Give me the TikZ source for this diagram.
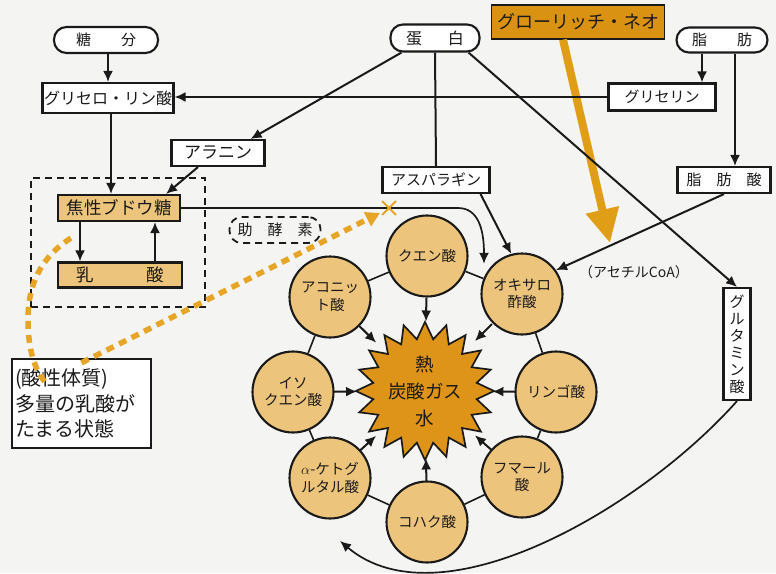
\documentclass[tikz,border=0pt]{standalone}
\usepackage{fontspec}
\setmainfont{Noto Sans CJK JP}
\usetikzlibrary{shapes.geometric,arrows.meta,calc}
\definecolor{bg}{HTML}{F4F5F3}
\definecolor{tanc}{HTML}{EDC47C}
\definecolor{starc}{HTML}{DE9418}
\definecolor{gloc}{HTML}{D99212}
\definecolor{oarrow}{HTML}{E09E16}
\definecolor{odash}{HTML}{E6A526}
\definecolor{ink}{HTML}{1A1A1A}
\begin{document}
\begin{tikzpicture}[x=1pt,y=-1pt,
  every node/.style={text=ink},
  bx/.style={draw=ink,line width=2.1pt,fill=white,inner sep=0pt,font=\fontsize{15}{18}\selectfont},
  pill/.style={bx,rounded corners=12.5pt},
  tanbx/.style={bx,fill=tanc,font=\fontsize{17.5}{20}\selectfont},
  circ/.style={circle,draw=ink,line width=2.1pt,fill=tanc,minimum size=81pt,inner sep=0pt,align=center,font=\fontsize{14.5}{17.5}\selectfont},
  arr/.style={draw=ink,line width=2pt,-{Latex[length=11pt,width=10pt]}},
  link/.style={draw=ink,line width=1.6pt},
  orangedash/.style={draw=odash,line width=5.5pt,dash pattern=on 8pt off 6pt}
]
\fill[bg] (0,0) rectangle (776,573);
\useasboundingbox (0,0) rectangle (776,573);

% boxes
\node[pill,minimum width=104pt,minimum height=26pt] (tobun) at (106,40) {糖\hspace{2em}分};
\node[bx,minimum width=131pt,minimum height=30pt,font=\fontsize{16}{18}\selectfont] (glyp) at (108,98) {グリセロ・リン酸};
\node[bx,minimum width=93pt,minimum height=26pt,font=\fontsize{17}{20}\selectfont] (alanin) at (218,153) {アラニン};
\node[draw=ink,line width=1.8pt,dash pattern=on 7pt off 5pt,minimum width=174pt,minimum height=129pt,inner sep=0pt] (group) at (118,242.5) {};
\node[tanbx,minimum width=122pt,minimum height=26pt] (shosei) at (119,208) {焦性ブドウ糖};
\node[tanbx,minimum width=124pt,minimum height=25pt] (nyusan) at (120,275) {乳\hspace{3em}酸};
\node[draw=ink,line width=1.8pt,dash pattern=on 7pt off 5pt,rounded corners=12pt,minimum width=91pt,minimum height=26pt,inner sep=0pt,font=\fontsize{15}{18}\selectfont] (jokoso) at (275,230) {助\hspace{1em}酵\hspace{1em}素};
\node[bx,line width=2.4pt,minimum width=139pt,minimum height=89pt,align=left,text width=133pt,font=\fontsize{20}{25.5}\selectfont] (sanbox) at (81.5,403.5) {(酸性体質)\\多量の乳酸が\\たまる状態};
\node[pill,minimum width=89pt,minimum height=27pt,font=\fontsize{16}{18}\selectfont] (tanpaku) at (435,38) {蛋\hspace{1.6em}白};
\node[bx,fill=gloc,line width=1.3pt,minimum width=173pt,minimum height=34pt,font=\fontsize{18}{20}\selectfont] (glorich) at (578,22) {グローリッチ・ネオ};
\node[pill,minimum width=91pt,minimum height=25pt] (shibo) at (722,40) {脂\hspace{2em}肪};
\node[bx,minimum width=107pt,minimum height=27pt] (glycerin) at (662,97) {グリセリン};
\node[bx,minimum width=93pt,minimum height=26pt] (shibosan) at (724,180) {脂\hspace{1em}肪\hspace{1em}酸};
\node[bx,minimum width=107pt,minimum height=26pt] (asparagin) at (436,180) {アスパラギン};
\node[bx,minimum width=27pt,minimum height=112pt,align=center,font=\fontsize{15}{17}\selectfont] (glutamin) at (737,344) {グ\\ル\\タ\\ミ\\ン\\酸};
\node[font=\fontsize{14}{16}\selectfont] (acoa) at (634,272) {（アセチルCoA）};

% cycle
\node[circ] (c1) at (427,256) {クエン酸};
\node[circ] (c2) at (522,294) {オキサロ\\酢酸};
\node[circ] (c3) at (556,392) {リンゴ酸};
\node[circ] (c4) at (522,477) {フマール\\酸};
\node[circ] (c5) at (427,522) {コハク酸};
\node[circ] (c6) at (330,478) {$\alpha$-ケトグ\\ルタル酸};
\node[circ] (c7) at (293,392) {イソ\\クエン酸};
\node[circ] (c8) at (330,297) {アコニッ\\ト酸};
\foreach \a/\b in {c1/c2,c2/c3,c3/c4,c4/c5,c5/c6,c6/c7,c7/c8,c8/c1}
  \draw[link] (\a) -- (\b);
\node[star,star points=20,star point ratio=1.32,draw=ink,line width=1.7pt,fill=starc,minimum size=130pt,inner sep=0pt,align=center,font=\fontsize{18.5}{27}\selectfont] (star) at (425,391) {熱\\炭酸ガス\\水};
\foreach \c in {c1,c2,c3,c4,c5,c6,c7,c8}
  \draw[arr] ($(star)!0.69!(\c)$) -- ($(star)!0.515!(\c)$);

% coordinates for free ends
\coordinate (goal) at (610,243);
\coordinate (tcaend) at ($(c1)!0.6!(c2)+(0,-15)$);
\coordinate (gend) at (340,541);
\coordinate (xm) at (389,208);

% orange arrow
\draw[draw=oarrow,line width=8pt,-{Triangle[length=34pt,width=32pt]}] ([xshift=-15pt]glorich.south) -- (goal);

% connectors
\draw[arr] (tobun.south -| glyp.north) -- (glyp.north);
\draw[arr] ([xshift=3pt]glyp.south) -- ([xshift=3pt]glyp.south |- shosei.north);
\draw[arr] (glycerin.west) -- (glycerin.west -| glyp.east);
\draw[arr] ([xshift=12pt]tanpaku.south west) -- ([xshift=-15pt]alanin.north east);
\draw[arr] ([xshift=-20pt]alanin.south) -- ([xshift=-15pt]shosei.north east);
\draw[arr] ([xshift=-39pt]shosei.south) -- ([xshift=-40pt]nyusan.north);
\draw[arr] ([xshift=35pt]nyusan.north) -- ([xshift=36pt]shosei.south);
\draw[arr,line width=1.7pt] (shosei.east) -- ([xshift=-26pt]shosei.east -| tcaend) .. controls +(20,0) and +(0,-35) .. (tcaend);
\draw[link,line width=2pt] (tanpaku.south) -- (asparagin.north);
\draw[arr] ([xshift=-10pt]asparagin.south east) -- (c2.105);
\draw[arr] ([xshift=-12pt]tanpaku.south east) -- (glutamin.north);
\draw[arr] ([xshift=-20pt]shibo.south) -- ([xshift=-20pt]shibo.south |- glycerin.north);
\draw[arr] ([xshift=13pt]shibo.south) -- ([xshift=13pt]shibo.south |- shibosan.north);
\draw[arr] (shibosan.south) -- (c2.35);
\draw[arr,line width=1.7pt] (glutamin.south) .. controls (640,510) and (440,625) .. (gend);

% orange dashed
\draw[orangedash] ([xshift=14pt,yshift=-16pt]shosei.south west) .. controls (40,258) and (28,285) .. (28,320) .. controls (28,350) and (35,370) .. (45,382);
\draw[orangedash,-{Triangle[length=14pt,width=15pt]}] ([yshift=-5pt]sanbox.north) -- ($(xm)+(-9,5)$);
\draw[draw=odash,line width=2pt] ($(xm)+(-7,-7)$) -- ($(xm)+(7,7)$) ($(xm)+(-7,7)$) -- ($(xm)+(7,-7)$);
\end{tikzpicture}
\end{document}
